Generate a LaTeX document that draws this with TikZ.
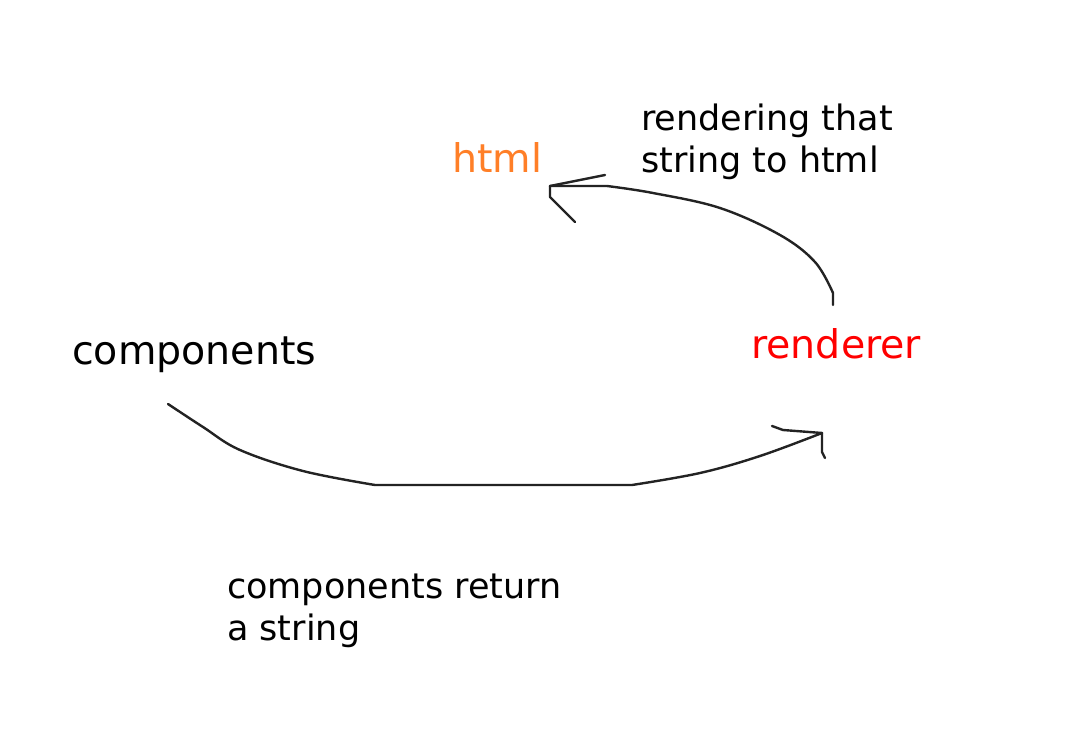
\documentclass[tikz,border=0pt]{standalone}
\usepackage{fontspec}
\setmainfont{DejaVu Sans}
\definecolor{paintorange}{RGB}{255,127,39}
\definecolor{ink}{RGB}{35,35,35}
\begin{document}
\begin{tikzpicture}[x=1pt,y=-1pt,
  lbl/.style={anchor=base west,inner sep=0pt,font=\fontsize{35}{42}\selectfont,align=left},
  big/.style={anchor=base west,inner sep=0pt,font=\fontsize{39.5}{44}\selectfont},
  stroke/.style={draw=ink,line width=2.4pt,line join=round,line cap=round}]
\useasboundingbox[fill=white] (0,0) rectangle (1080,750);
% texts
\node[big] (comp) at (72,364) {components};
\node[big,text=red] (rend) at (751,358) {renderer};
\node[big,text=paintorange] (html) at (452,172) {html};
\node[lbl] (lab1) at (641,172) {rendering that\\string to html};
\node[lbl] (lab2) at (227,640) {components return\\a string};
% anchor coordinates
\coordinate (c1s) at (168,404);
\coordinate (c1e) at (822,433);
\coordinate (c2s) at (833,305);
\coordinate (c2e) at (550,186);
% bottom arrow
\draw[stroke] plot[smooth,tension=0.6] coordinates {(c1s) (203,427) (240,450) (303,471) (375,485)}
  -- (632,485) plot[smooth,tension=0.6] coordinates {(632,485) (700,473) (760,456) (c1e)};
\draw[stroke] (c1e) -- (783,430) -- (772,426);
\draw[stroke] (c1e) -- (822,452) -- (825,458);
% top arrow
\draw[stroke] (c2s) -- (833,293) plot[smooth,tension=0.6] coordinates {(833,293) (815,262) (780,235) (720,208) (653,193) (607,186)} -- (c2e);
\draw[stroke] (c2e) -- (605,175);
\draw[stroke] (c2e) -- (550,197) -- (575,222);
\end{tikzpicture}
\end{document}
